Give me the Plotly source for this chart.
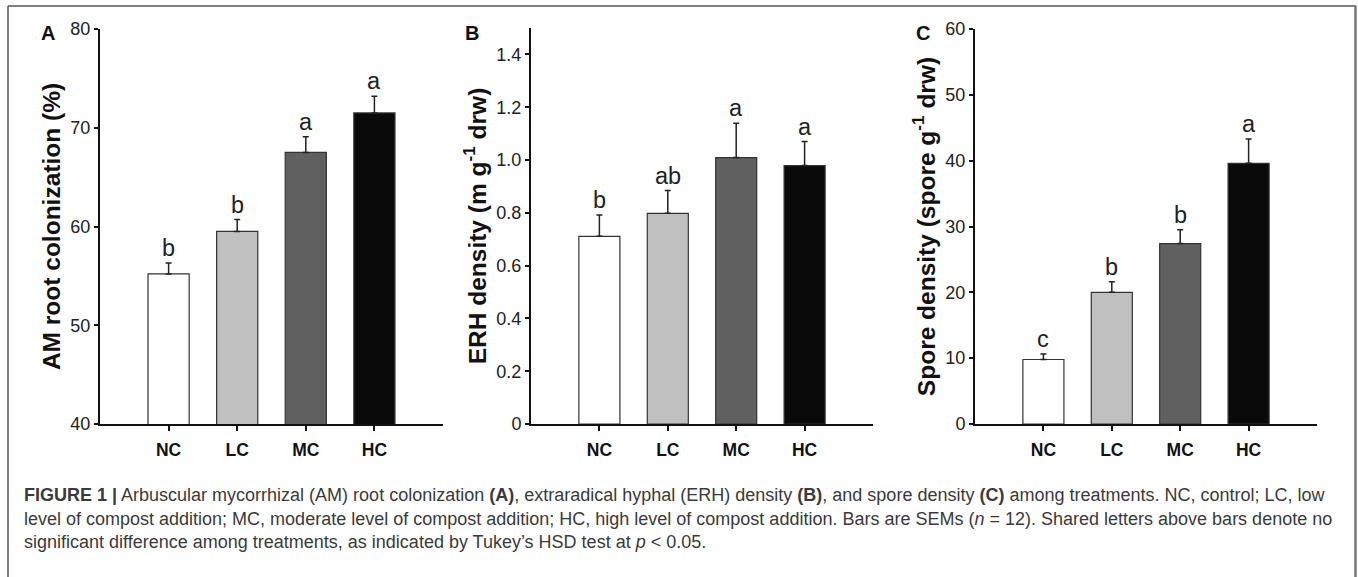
import plotly.graph_objects as go

# ---------------- data ----------------
categories = ["NC", "LC", "MC", "HC"]

am_mean = [55.2, 59.5, 67.5, 71.5]
am_sem = [1.1, 1.2, 1.6, 1.7]
am_letters = ["b", "b", "a", "a"]

erh_mean = [0.711, 0.798, 1.009, 0.979]
erh_sem = [0.081, 0.086, 0.130, 0.091]
erh_letters = ["b", "ab", "a", "a"]

spore_mean = [9.8, 20.0, 27.4, 39.6]
spore_sem = [0.85, 1.6, 2.1, 3.7]
spore_letters = ["c", "b", "b", "a"]

am_ticks = [40, 50, 60, 70, 80]
erh_ticks = [0, 0.2, 0.4, 0.6, 0.8, 1.0, 1.2, 1.4]
erh_ticktext = ["0", "0.2", "0.4", "0.6", "0.8", "1.0", "1.2", "1.4"]
spore_ticks = [0, 10, 20, 30, 40, 50, 60]

bar_colors = ["#ffffff", "#c0c0c0", "#606060", "#0a0a0a"]

caption_lines = [
    "<b>FIGURE 1 |</b> Arbuscular mycorrhizal (AM) root colonization <b>(A)</b>, extraradical hyphal (ERH) density "
    "<b>(B)</b>, and spore density <b>(C)</b> among treatments. NC, control; LC, low",
    "level of compost addition; MC, moderate level of compost addition; HC, high level of compost addition. "
    "Bars are SEMs (<i>n</i> = 12). Shared letters above bars denote no",
    "significant difference among treatments, as indicated by Tukey\u2019s HSD test at <i>p</i> &lt; 0.05.",
]

# ---------------- layout geometry (pixels) ----------------
W, H = 1358, 577
panels = [
    dict(x0=100, x1=443, y0=424, y1=29, rng=[40, 80], ticks=am_ticks, ticktext=[str(t) for t in am_ticks],
         mean=am_mean, sem=am_sem, letters=am_letters, title="AM root colonization (%)", tag="A", tagx=48),
    dict(x0=531, x1=873, y0=424, y1=28, rng=[0, 1.5], ticks=erh_ticks, ticktext=erh_ticktext,
         mean=erh_mean, sem=erh_sem, letters=erh_letters, title="ERH density (m g<sup>-1</sup> drw)", tag="B", tagx=472),
    dict(x0=975, x1=1317, y0=424, y1=29, rng=[0, 60], ticks=spore_ticks, ticktext=[str(t) for t in spore_ticks],
         mean=spore_mean, sem=spore_sem, letters=spore_letters, title="Spore density (spore g<sup>-1</sup> drw)",
         tag="C", tagx=923),
]

fig = go.Figure()
annotations = []
FONT = "Liberation Sans, Arial, Helvetica, sans-serif"

for i, p in enumerate(panels):
    n = "" if i == 0 else str(i + 1)
    xa, ya = "x" + n, "y" + n
    fig.add_trace(go.Bar(
        x=categories, y=p["mean"], xaxis=xa, yaxis=ya, width=0.6,
        marker=dict(color=bar_colors, line=dict(color="#333333", width=1.2)),
        error_y=dict(type="data", array=p["sem"], arrayminus=[0] * len(p["sem"]), symmetric=False,
                     color="#222222", thickness=1.5, width=3),
        showlegend=False, hoverinfo="skip",
    ))
    for c, m, s, l in zip(categories, p["mean"], p["sem"], p["letters"]):
        annotations.append(dict(x=c, y=m + s, xref=xa, yref=ya, text=l, showarrow=False,
                                yanchor="bottom", yshift=0,
                                font=dict(family=FONT, size=23.5, color="#222222")))
    annotations.append(dict(x=p["tagx"] / W, y=1 - 33 / H, xref="paper", yref="paper", text="<b>%s</b>" % p["tag"],
                            showarrow=False, xanchor="center", yanchor="middle",
                            font=dict(family=FONT, size=20, color="#111111")))
    fig.update_layout(**{
        "xaxis" + n: dict(domain=[p["x0"] / W, p["x1"] / W], anchor=ya, type="category", range=[-1, 4],
                          automargin=False,
                          showline=True, linecolor="#111111", linewidth=2, ticks="outside", ticklen=5,
                          tickwidth=1.5, tickcolor="#111111", showgrid=False, zeroline=False,
                          ticklabelstandoff=4,
                          tickfont=dict(family=FONT, size=17.5, color="#111111", weight="bold")),
        "yaxis" + n: dict(domain=[1 - p["y0"] / H, 1 - p["y1"] / H], anchor=xa, range=p["rng"],
                          automargin=False,
                          tickvals=p["ticks"], ticktext=p["ticktext"],
                          showline=True, linecolor="#111111", linewidth=2, ticks="outside", ticklen=4,
                          tickwidth=1.5, tickcolor="#111111", showgrid=False, zeroline=False,
                          tickfont=dict(family=FONT, size=18, color="#222222"),
                          title=dict(text="<b>%s</b>" % p["title"], standoff=3,
                                     font=dict(family=FONT, size=24.5, color="#111111"))),
    })

cap_y = [495, 518.5, 542]
for txt, yy in zip(caption_lines, cap_y):
    annotations.append(dict(x=22 / W, y=1 - yy / H, xref="paper", yref="paper", text=txt, showarrow=False,
                            xanchor="left", yanchor="middle", align="left",
                            font=dict(family=FONT, size=18, color="#3a3a3a")))

shapes = [
    dict(type="line", xref="paper", yref="paper", x0=8 / W, x1=8 / W, y0=0, y1=1 - 6 / H,
         line=dict(color="#555555", width=1.5)),
    dict(type="line", xref="paper", yref="paper", x0=8 / W, x1=1356 / W, y0=1 - 6 / H, y1=1 - 6 / H,
         line=dict(color="#555555", width=1.5)),
    dict(type="line", xref="paper", yref="paper", x0=1355.5 / W, x1=1355.5 / W, y0=0, y1=1 - 6 / H,
         line=dict(color="#777777", width=2.5)),
]

fig.update_layout(template="none", width=W, height=H, margin=dict(l=0, r=0, t=0, b=0, pad=0),
                  paper_bgcolor="white", plot_bgcolor="white", annotations=annotations, shapes=shapes,
                  bargap=0.4)

fig.write_html("out.html", config={"displayModeBar": False},
               post_script="document.body.style.margin='0px';")
